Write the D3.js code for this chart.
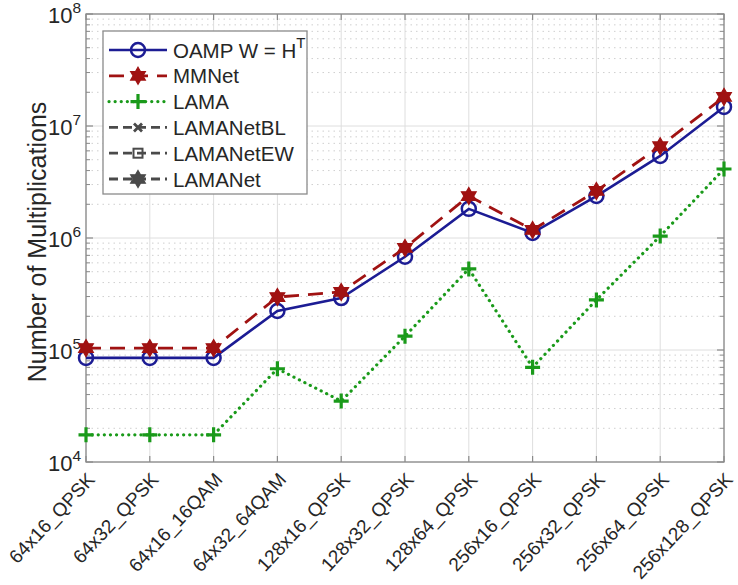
<!DOCTYPE html>
<html>
<head>
<meta charset="utf-8">
<script src="https://cdn.jsdelivr.net/npm/d3@7"></script>
<style>
  body { margin: 0; background: #fff; }
  text { font-family: "Liberation Sans", Arial, Helvetica, sans-serif; fill: #262626; }
</style>
</head>
<body>
<svg id="chart" width="738" height="585"></svg>
<script>
// System configurations (antennas x users _ modulation)
const categories = [
  "64x16_QPSK", "64x32_QPSK", "64x16_16QAM", "64x32_64QAM", "128x16_QPSK",
  "128x32_QPSK", "128x64_QPSK", "256x16_QPSK", "256x32_QPSK", "256x64_QPSK", "256x128_QPSK"
];
// Number of multiplications per detector
const oampValues  = [8.5e4, 8.5e4, 8.5e4, 2.23e5, 2.91e5, 6.8e5, 1.82e6, 1.11e6, 2.37e6, 5.4e6, 1.48e7];
const mmnetValues = [1.04e5, 1.04e5, 1.04e5, 2.97e5, 3.3e5, 8.15e5, 2.37e6, 1.18e6, 2.63e6, 6.6e6, 1.82e7];
const lamaValues  = [1.75e4, 1.75e4, 1.75e4, 6.8e4, 3.5e4, 1.33e5, 5.3e5, 7.0e4, 2.8e5, 1.04e6, 4.13e6];
const yTickExponents = [4, 5, 6, 7, 8];
const legendLabels = ["OAMP W = H", "MMNet", "LAMA", "LAMANetBL", "LAMANetEW", "LAMANet"];
const yLabel = "Number of Multiplications";

const svg = d3.select("#chart");
const plotLeft = 86, plotRight = 724, plotTop = 14, plotBottom = 462;
const legendFont = 20.5, tickFont = 22, labelFont = 25;

const x = d3.scalePoint().domain(categories).range([plotLeft, plotRight]);
const y = d3.scaleLog().domain([1e4, 1e8]).range([plotBottom, plotTop]);

const gridColor = "#dedede";
const axisColor = "#8a8a8a";

// Minor grid (dotted) at 2..9 x 10^k
const minorVals = [];
for (let e = 4; e < 8; e++) for (let m = 2; m <= 9; m++) minorVals.push(m * Math.pow(10, e));
const grid = svg.append("g");
grid.selectAll("line.minor").data(minorVals).join("line")
  .attr("x1", plotLeft).attr("x2", plotRight)
  .attr("y1", d => y(d)).attr("y2", d => y(d))
  .attr("stroke", "#cfcfcf").attr("stroke-width", 1).attr("stroke-dasharray", "1.5,4");
// Major grid
grid.selectAll("line.hmaj").data(yTickExponents.map(e => Math.pow(10, e))).join("line")
  .attr("x1", plotLeft).attr("x2", plotRight)
  .attr("y1", d => y(d)).attr("y2", d => y(d))
  .attr("stroke", gridColor).attr("stroke-width", 1);
grid.selectAll("line.vmaj").data(categories).join("line")
  .attr("x1", d => x(d)).attr("x2", d => x(d))
  .attr("y1", plotTop).attr("y2", plotBottom)
  .attr("stroke", gridColor).attr("stroke-width", 1);

// Axis box and ticks
const ax = svg.append("g");
ax.append("rect").attr("x", plotLeft).attr("y", plotTop)
  .attr("width", plotRight - plotLeft).attr("height", plotBottom - plotTop)
  .attr("fill", "none").attr("stroke", axisColor).attr("stroke-width", 1.3);
categories.forEach(c => {
  ax.append("line").attr("x1", x(c)).attr("x2", x(c)).attr("y1", plotBottom).attr("y2", plotBottom - 6)
    .attr("stroke", axisColor).attr("stroke-width", 1.2);
  ax.append("line").attr("x1", x(c)).attr("x2", x(c)).attr("y1", plotTop).attr("y2", plotTop + 6)
    .attr("stroke", axisColor).attr("stroke-width", 1.2);
});
yTickExponents.forEach(e => {
  const yy = y(Math.pow(10, e));
  ax.append("line").attr("x1", plotLeft).attr("x2", plotLeft + 7).attr("y1", yy).attr("y2", yy).attr("stroke", axisColor).attr("stroke-width", 1.2);
  ax.append("line").attr("x1", plotRight).attr("x2", plotRight - 7).attr("y1", yy).attr("y2", yy).attr("stroke", axisColor).attr("stroke-width", 1.2);
});
minorVals.forEach(v => {
  const yy = y(v);
  ax.append("line").attr("x1", plotLeft).attr("x2", plotLeft + 4).attr("y1", yy).attr("y2", yy).attr("stroke", axisColor).attr("stroke-width", 1);
  ax.append("line").attr("x1", plotRight).attr("x2", plotRight - 4).attr("y1", yy).attr("y2", yy).attr("stroke", axisColor).attr("stroke-width", 1);
});

// y tick labels 10^k
yTickExponents.forEach(e => {
  const t = svg.append("text").attr("x", 81).attr("y", y(Math.pow(10, e)) + 9)
    .attr("text-anchor", "end").attr("font-size", tickFont);
  t.append("tspan").text("10");
  t.append("tspan").attr("dy", -10).attr("font-size", 15.5).text(e);
});

// x tick labels, rotated
svg.append("g").selectAll("text").data(categories).join("text")
  .attr("transform", d => `translate(${x(d) + 5},${plotBottom + 14}) rotate(-47)`)
  .attr("text-anchor", "end").attr("font-size", 19).attr("dy", "0.35em")
  .text(d => d);

// y label
svg.append("text").attr("transform", `translate(46,242) rotate(-90)`)
  .attr("text-anchor", "middle").attr("font-size", labelFont).text(yLabel);

// Marker shapes
function hexagramPath(r) {
  const pts = a => d3.range(3).map(i => {
    const ang = a + i * 2 * Math.PI / 3;
    return [r * Math.sin(ang), -r * Math.cos(ang)];
  });
  const t1 = pts(0), t2 = pts(Math.PI);
  return "M" + t1.join("L") + "Z M" + t2.join("L") + "Z";
}

const blue = "#1c1c94", red = "#a01212", green = "#1a9a1a", gray = "#4a4a4a";
const series = [
  { values: oampValues,  color: blue,  dash: null,     width: 2.6, cap: "butt",  marker: "circle" },
  { values: mmnetValues, color: red,   dash: "15,9",   width: 2.8, cap: "butt",  marker: "hexagram" },
  { values: lamaValues,  color: green, dash: "0.1,6",  width: 3.2, cap: "round", marker: "plus" }
];

const line = d3.line().x((d, i) => x(categories[i])).y(d => y(d));

function drawMarker(g, kind, cx, cy, color) {
  if (kind === "circle") {
    g.append("circle").attr("cx", cx).attr("cy", cy).attr("r", 7)
      .attr("fill", "none").attr("stroke", color).attr("stroke-width", 2.5);
  } else if (kind === "hexagram") {
    g.append("path").attr("d", hexagramPath(8.5)).attr("transform", `translate(${cx},${cy})`)
      .attr("fill", color).attr("stroke", color).attr("stroke-width", 1.2);
  } else if (kind === "plus") {
    g.append("path").attr("d", "M-7.5,0H7.5M0,-7.5V7.5").attr("transform", `translate(${cx},${cy})`)
      .attr("stroke", color).attr("stroke-width", 3.2).attr("fill", "none");
  } else if (kind === "x") {
    g.append("path").attr("d", "M-4,-4L4,4M-4,4L4,-4").attr("transform", `translate(${cx},${cy})`)
      .attr("stroke", color).attr("stroke-width", 2.8).attr("fill", "none");
  } else if (kind === "square") {
    g.append("rect").attr("x", cx - 4.5).attr("y", cy - 4.5).attr("width", 9).attr("height", 9)
      .attr("stroke", color).attr("stroke-width", 2).attr("fill", "none");
  }
}

const plot = svg.append("g");
// LAMA first, then OAMP, then MMNet on top
[series[2], series[0], series[1]].forEach(s => {
  plot.append("path").datum(s.values).attr("d", line)
    .attr("fill", "none").attr("stroke", s.color).attr("stroke-width", s.width)
    .attr("stroke-dasharray", s.dash).attr("stroke-linecap", s.cap);
  s.values.forEach((v, i) => drawMarker(plot, s.marker, x(categories[i]), y(v), s.color));
});

// Legend
const lg = svg.append("g");
const lx = 103, ly = 31, lw = 204, lh = 163;
lg.append("rect").attr("x", lx).attr("y", ly).attr("width", lw).attr("height", lh)
  .attr("fill", "#fff").attr("stroke", axisColor).attr("stroke-width", 1.3);
const legendStyles = [
  { color: blue,  dash: null,    cap: "butt",  width: 2.6, marker: "circle" },
  { color: red,   dash: "15,9",  cap: "butt",  width: 2.8, marker: "hexagram" },
  { color: green, dash: "0.1,6", cap: "round", width: 3.2, marker: "plus" },
  { color: gray,  dash: "9,5",   cap: "butt",  width: 2.8, marker: "x" },
  { color: gray,  dash: "9,5",   cap: "butt",  width: 2.8, marker: "square" },
  { color: gray,  dash: "9,5",   cap: "butt",  width: 2.8, marker: "hexagram" }
];
legendLabels.forEach((lab, i) => {
  const yy = 50 + i * 25.8;
  const st = legendStyles[i];
  lg.append("line").attr("x1", 109).attr("x2", 167).attr("y1", yy).attr("y2", yy)
    .attr("stroke", st.color).attr("stroke-width", st.width)
    .attr("stroke-dasharray", st.dash).attr("stroke-linecap", st.cap);
  drawMarker(lg, st.marker, 138, yy, st.color);
  const t = lg.append("text").attr("x", 173).attr("y", yy + 7.5).attr("font-size", legendFont).text(lab);
  if (i === 0) t.append("tspan").attr("dy", -10).attr("font-size", 15).text("T");
});
</script>
</body>
</html>
